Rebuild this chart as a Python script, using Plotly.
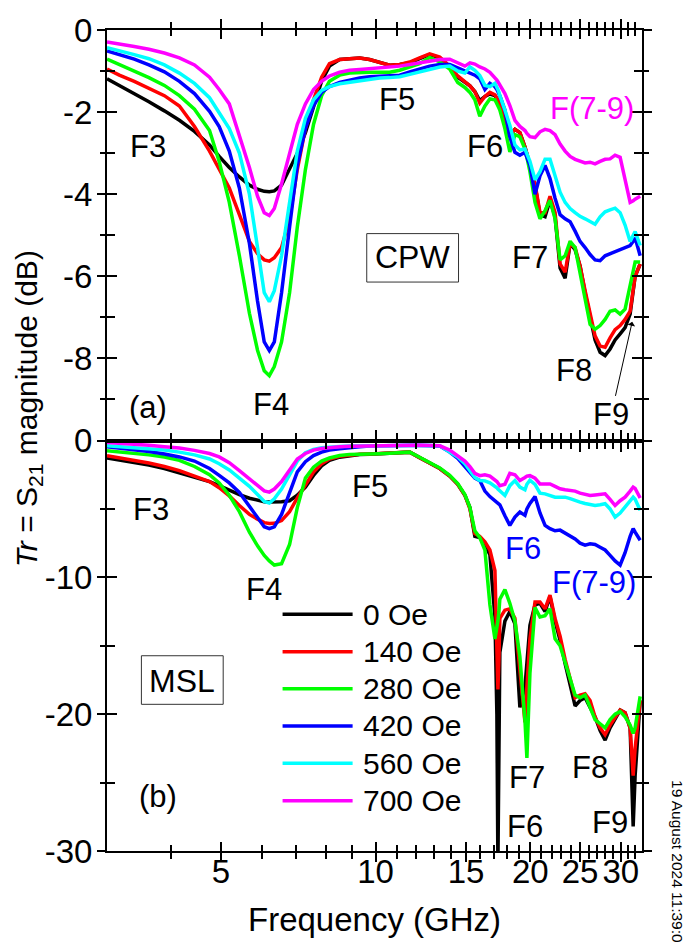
import numpy as np
import plotly.graph_objects as go

# ---------------------------------------------------------------- data
freq_ghz = [3.00, 3.17, 3.39, 3.62, 3.88, 4.15, 4.44, 4.75, 4.96, 5.19,
            5.43, 5.68, 5.89, 6.07, 6.21, 6.35, 6.56, 6.80, 7.04, 7.30,
            7.57, 7.85, 8.13, 8.51, 8.90, 9.31, 9.73, 10.18, 10.65, 11.14,
            11.65, 12.18, 12.74, 13.33, 13.94, 14.45, 14.92, 15.26, 15.60, 15.95,
            16.32, 16.69, 17.07, 17.22, 17.30, 17.38, 17.45, 17.85, 18.25, 18.67,
            19.09, 19.53, 19.70, 19.97, 20.43, 20.89, 21.37, 21.85, 22.35, 22.86,
            23.38, 23.91, 24.45, 25.00, 25.57, 26.15, 26.74, 27.35, 27.97, 28.60,
            29.25, 29.92, 30.59, 31.29, 31.72, 32.00, 32.73]

field_labels = ["0 Oe", "140 Oe", "280 Oe", "420 Oe", "560 Oe", "700 Oe"]
field_colors = ["#000000", "#FF0000", "#00FF00", "#0000FF", "#00FFFF", "#FF00FF"]

# (a) coplanar waveguide, S21 in dB
cpw_0 = [-1.19, -1.35, -1.55, -1.75, -1.97, -2.20, -2.47, -2.80, -3.08, -3.35,
         -3.58, -3.78, -3.88, -3.93, -3.94, -3.92, -3.78, -3.40, -3.00, -2.50,
         -1.85, -1.25, -0.88, -0.72, -0.70, -0.68, -0.72, -0.80, -0.86, -0.84,
         -0.80, -0.70, -0.60, -0.68, -0.90, -1.15, -1.28, -1.36, -1.50, -1.72,
         -1.62, -1.56, -1.60, -1.68, -1.72, -1.76, -1.80, -2.20, -2.57, -2.42,
         -2.50, -2.85, -3.05, -3.29, -3.78, -4.50, -4.55, -4.15, -4.55, -5.80,
         -6.05, -5.20, -5.35, -5.75, -6.40, -7.00, -7.55, -7.85, -7.93, -7.77,
         -7.55, -7.40, -7.25, -6.92, -6.30, -6.00, -5.70]
cpw_140 = [-0.95, -1.10, -1.25, -1.42, -1.60, -1.85, -2.35, -2.95, -3.40, -3.85,
           -4.50, -5.15, -5.45, -5.60, -5.63, -5.55, -5.30, -4.60, -3.40, -2.40,
           -1.70, -1.15, -0.82, -0.72, -0.70, -0.68, -0.72, -0.80, -0.86, -0.84,
           -0.78, -0.68, -0.58, -0.66, -0.88, -1.12, -1.25, -1.36, -1.50, -1.78,
           -1.62, -1.52, -1.58, -1.65, -1.70, -1.74, -1.78, -2.20, -2.57, -2.42,
           -2.50, -2.85, -3.05, -3.29, -3.75, -4.45, -4.45, -4.05, -4.45, -5.70,
           -5.90, -5.20, -5.30, -5.75, -6.35, -6.95, -7.45, -7.70, -7.73, -7.50,
           -7.30, -7.20, -7.05, -6.85, -6.25, -6.00, -5.70]
cpw_280 = [-0.71, -0.84, -1.00, -1.16, -1.35, -1.60, -1.93, -2.45, -3.20, -4.20,
           -5.50, -6.90, -7.80, -8.30, -8.42, -8.20, -7.60, -6.40, -4.80, -3.40,
           -2.30, -1.60, -1.25, -1.10, -1.05, -1.03, -1.03, -1.03, -1.03, -0.98,
           -0.91, -0.82, -0.67, -0.78, -0.95, -1.28, -1.40, -1.52, -1.70, -2.10,
           -1.85, -1.68, -1.70, -1.78, -1.84, -1.90, -1.95, -2.40, -2.97, -2.55,
           -2.60, -2.90, -3.10, -3.45, -4.20, -4.60, -4.40, -4.15, -4.60, -5.60,
           -5.50, -5.15, -5.30, -5.95, -6.60, -7.17, -7.29, -7.20, -7.05, -6.85,
           -6.82, -6.92, -6.80, -6.20, -5.85, -5.65, -5.65]
cpw_420 = [-0.51, -0.60, -0.71, -0.85, -1.02, -1.25, -1.55, -1.98, -2.35, -2.95,
           -3.85, -5.20, -6.60, -7.60, -7.81, -7.60, -6.40, -4.80, -3.30, -2.40,
           -1.85, -1.52, -1.38, -1.28, -1.22, -1.17, -1.14, -1.12, -1.11, -1.10,
           -1.02, -0.95, -0.88, -0.84, -0.84, -0.92, -1.00, -1.05, -1.10, -1.19,
           -1.45, -1.30, -1.38, -1.45, -1.50, -1.55, -1.60, -1.95, -2.60, -2.98,
           -3.05, -2.98, -3.10, -3.30, -4.00, -3.55, -3.30, -3.62, -4.10, -4.50,
           -4.60, -4.67, -4.90, -5.15, -5.30, -5.47, -5.60, -5.62, -5.50, -5.45,
           -5.40, -5.35, -5.32, -5.25, -5.15, -5.06, -5.50]
cpw_560 = [-0.43, -0.50, -0.60, -0.70, -0.85, -1.05, -1.30, -1.65, -2.00, -2.40,
           -3.00, -4.00, -5.30, -6.40, -6.62, -6.35, -5.50, -4.20, -2.95, -2.15,
           -1.70, -1.47, -1.38, -1.31, -1.27, -1.23, -1.20, -1.17, -1.16, -1.14,
           -1.08, -1.02, -0.95, -0.90, -0.88, -1.00, -1.05, -0.90, -0.98, -1.11,
           -1.35, -1.38, -1.30, -1.38, -1.45, -1.52, -1.60, -1.95, -2.32, -2.80,
           -2.92, -2.90, -3.00, -3.20, -3.65, -3.45, -3.15, -3.15, -3.55, -3.95,
           -4.20, -4.35, -4.45, -4.54, -4.60, -4.67, -4.73, -4.55, -4.43, -4.38,
           -4.34, -4.45, -4.75, -5.15, -5.00, -4.91, -5.25]
cpw_700 = [-0.29, -0.33, -0.40, -0.47, -0.56, -0.68, -0.85, -1.15, -1.45, -1.80,
           -2.55, -3.35, -4.05, -4.45, -4.52, -4.35, -3.75, -3.00, -2.30, -1.80,
           -1.45, -1.25, -1.12, -1.03, -0.98, -0.96, -0.94, -0.93, -0.92, -0.88,
           -0.84, -0.80, -0.76, -0.72, -0.71, -0.80, -0.88, -0.80, -0.83, -0.90,
           -0.95, -1.03, -1.15, -1.22, -1.26, -1.30, -1.35, -1.55, -1.84, -2.20,
           -2.35, -2.45, -2.52, -2.60, -2.62, -2.48, -2.42, -2.45, -2.55, -2.78,
           -2.95, -3.08, -3.15, -3.20, -3.24, -3.22, -3.26, -3.20, -3.15, -3.14,
           -3.05, -3.10, -3.60, -4.20, -4.16, -4.12, -4.05]

# (b) microstrip line, S21 in dB
msl_0 = [-1.28, -1.42, -1.60, -1.80, -2.05, -2.35, -2.70, -3.00, -3.30, -3.65,
         -3.95, -4.22, -4.38, -4.47, -4.50, -4.50, -4.48, -4.40, -4.00, -3.40,
         -2.55, -1.85, -1.45, -1.22, -1.10, -1.03, -1.00, -0.97, -0.93, -0.88,
         -0.85, -1.25, -1.62, -2.05, -2.60, -3.20, -4.00, -4.90, -7.00, -7.10,
         -7.60, -8.35, -12.9, -20.0, -31.0, -25.0, -15.5, -13.2, -12.5, -13.4,
         -19.5, -18.0, -16.0, -13.5, -12.0, -11.9, -12.5, -11.4, -13.2, -14.6,
         -16.3, -17.8, -19.4, -19.0, -18.8, -19.5, -20.2, -21.2, -21.9, -21.0,
         -20.3, -19.7, -19.9, -21.0, -28.2, -24.5, -19.0]
msl_140 = [-1.12, -1.27, -1.45, -1.65, -1.90, -2.20, -2.60, -3.00, -3.45, -4.05,
           -4.75, -5.40, -5.75, -6.00, -6.07, -6.05, -5.85, -5.20, -4.20, -3.20,
           -2.30, -1.70, -1.35, -1.15, -1.06, -1.00, -0.98, -0.96, -0.92, -0.88,
           -0.85, -1.25, -1.62, -2.05, -2.60, -3.20, -4.00, -5.00, -6.80, -7.00,
           -7.40, -8.00, -9.50, -14.0, -18.2, -16.0, -13.0, -12.4, -12.3, -13.0,
           -17.0, -20.6, -18.0, -14.5, -11.8, -11.8, -12.3, -11.3, -13.0, -14.3,
           -16.0, -17.3, -18.8, -18.6, -18.5, -19.0, -20.2, -21.0, -21.5, -20.8,
           -20.2, -19.7, -19.9, -21.0, -24.5, -22.5, -19.0]
msl_280 = [-0.75, -0.83, -0.93, -1.05, -1.20, -1.45, -1.90, -2.50, -3.10, -4.00,
           -5.20, -6.70, -7.70, -8.40, -8.80, -9.10, -9.00, -7.60, -4.90, -2.75,
           -1.95, -1.50, -1.28, -1.10, -1.02, -0.98, -0.97, -0.96, -0.93, -0.88,
           -0.85, -1.22, -1.60, -2.00, -2.55, -3.15, -3.95, -4.90, -6.60, -7.10,
           -8.00, -12.0, -14.5, -13.8, -13.2, -12.5, -11.6, -10.9, -11.9, -13.2,
           -15.8, -20.5, -23.2, -17.0, -12.2, -12.9, -12.8, -12.3, -14.5, -15.0,
           -16.2, -17.2, -18.6, -18.8, -18.6, -19.5, -20.4, -20.7, -21.0, -20.4,
           -20.0, -19.8, -20.2, -20.8, -21.4, -21.0, -18.7]
msl_420 = [-0.46, -0.55, -0.67, -0.80, -0.98, -1.20, -1.50, -2.05, -2.55, -3.10,
           -3.80, -4.80, -5.70, -6.30, -6.44, -6.31, -5.40, -3.90, -2.30, -1.55,
           -1.10, -0.85, -0.70, -0.60, -0.50, -0.45, -0.41, -0.38, -0.36, -0.35,
           -0.34, -0.34, -0.36, -0.40, -0.85, -1.30, -1.90, -2.30, -2.75, -2.93,
           -3.70, -4.10, -4.40, -4.55, -4.60, -4.65, -4.70, -5.50, -6.20, -5.60,
           -5.23, -5.47, -5.00, -4.60, -4.10, -5.30, -6.20, -6.44, -6.60, -6.55,
           -6.75, -6.95, -7.20, -7.50, -7.65, -7.55, -7.60, -7.80, -8.00, -8.40,
           -8.80, -9.10, -8.20, -7.00, -6.44, -6.70, -7.29]
msl_560 = [-0.39, -0.45, -0.52, -0.60, -0.70, -0.85, -1.05, -1.35, -1.70, -2.15,
           -2.75, -3.35, -3.95, -4.45, -4.57, -4.26, -3.55, -2.50, -1.50, -0.90,
           -0.65, -0.52, -0.46, -0.43, -0.41, -0.40, -0.38, -0.36, -0.35, -0.35,
           -0.34, -0.34, -0.36, -0.39, -0.80, -1.20, -1.70, -2.20, -2.70, -2.93,
           -2.95, -3.10, -3.30, -3.45, -3.55, -3.62, -3.70, -4.02, -3.30, -2.93,
           -3.40, -3.60, -3.20, -2.90, -3.20, -3.85, -3.90, -4.05, -4.14, -4.15,
           -4.14, -4.25, -4.40, -4.50, -4.60, -4.68, -4.75, -4.70, -4.62, -5.00,
           -5.60, -5.30, -4.86, -4.40, -4.14, -4.30, -5.10]
msl_700 = [-0.15, -0.20, -0.27, -0.35, -0.45, -0.55, -0.72, -0.95, -1.20, -1.62,
           -2.20, -2.80, -3.30, -3.68, -3.77, -3.55, -3.00, -2.10, -1.35, -0.95,
           -0.70, -0.58, -0.50, -0.45, -0.42, -0.40, -0.38, -0.36, -0.35, -0.35,
           -0.34, -0.34, -0.36, -0.39, -0.70, -1.10, -1.50, -1.90, -2.40, -2.57,
           -2.50, -2.60, -2.85, -3.00, -3.10, -3.20, -3.30, -3.20, -2.40, -2.50,
           -2.93, -2.70, -2.60, -2.57, -2.75, -3.17, -3.20, -3.17, -3.35, -3.53,
           -3.60, -3.63, -3.70, -3.85, -3.95, -4.02, -3.98, -3.95, -3.90, -4.30,
           -4.75, -4.40, -4.14, -3.70, -3.41, -3.50, -4.20]

cpw_series = [cpw_0, cpw_140, cpw_280, cpw_420, cpw_560, cpw_700]
msl_series = [msl_0, msl_140, msl_280, msl_420, msl_560, msl_700]

# axis ticks
x_major = [5, 10, 15, 20, 25, 30]
x_minor = [4, 6, 7, 8, 9, 11, 12, 13, 14, 16, 17, 18, 19, 21, 22, 23, 24,
           26, 27, 28, 29, 31, 32]
cpw_major = [0, -2, -4, -6, -8]
cpw_minor = [-1, -3, -5, -7, -9]
msl_major = [0, -10, -20, -30]
msl_minor = [-5, -15, -25]

# feature labels: (text, frequency GHz, dB, colour)
cpw_labels = [("F3", 3.61, -2.85, "black"), ("F4", 6.27, -9.12, "black"),
              ("F5", 10.99, -1.69, "black"), ("F6", 16.32, -2.83, "black"),
              ("F7", 19.97, -5.54, "black"), ("F8", 24.34, -8.30, "black"),
              ("F(7-9)", 26.39, -1.91, "#FF00FF"), ("(a)", 3.61, -9.19, "black")]
msl_labels = [("F3", 3.66, -5.06, "black"), ("F4", 6.05, -10.86, "black"),
              ("F5", 9.73, -3.39, "black"), ("F6", 19.36, -7.88, "#0000FF"),
              ("F(7-9)", 26.63, -10.36, "#0000FF"), ("F7", 19.70, -24.65, "black"),
              ("F6", 19.53, -28.2, "black"), ("F8", 26.15, -23.92, "black"),
              ("F9", 28.60, -27.9, "black"), ("(b)", 3.77, -26.0, "black")]

# ---------------------------------------------------------------- figure
FONT = "Liberation Sans, Arial, sans-serif"
W, H = 686, 943
ML, MR, MT, MB = 107, 44, 24, 92
LW = 3.5
F_MIN, F_MAX = 3.0, 33.0
CPW_RANGE = [-10, 0]
MSL_RANGE = [-30, 0]

fig = go.Figure()

for name, color, top, bottom in zip(field_labels, field_colors, cpw_series, msl_series):
    fig.add_trace(go.Scatter(x=freq_ghz, y=top, xaxis="x2", yaxis="y2", mode="lines",
                             line=dict(color=color, width=LW), name=name,
                             showlegend=False, hoverinfo="skip"))
    fig.add_trace(go.Scatter(x=freq_ghz, y=bottom, xaxis="x", yaxis="y", mode="lines",
                             line=dict(color=color, width=LW), name=name,
                             showlegend=False, hoverinfo="skip"))

# invisible markers so the inward-tick companion axes get drawn
for xa, ya in [("x3", "y"), ("x", "y3"), ("x4", "y2"), ("x2", "y4")]:
    fig.add_trace(go.Scatter(x=[10], y=[-1], xaxis=xa, yaxis=ya, mode="markers",
                             marker=dict(opacity=0), hoverinfo="skip", showlegend=False))

x_range = [float(np.log10(F_MIN)), float(np.log10(F_MAX))]
tick_font = dict(family=FONT, size=33, color="black")


def x_axis(labels, ticks, major_len, minor_len, **extra):
    d = dict(type="log", range=x_range, tickmode="array", tickvals=x_major,
             ticktext=[str(v) for v in x_major], ticks=ticks, ticklen=major_len,
             tickwidth=2, tickcolor="black", showline=True, linecolor="black",
             linewidth=2, mirror="ticks", showgrid=False, zeroline=False,
             showticklabels=labels, tickfont=tick_font, ticklabelstandoff=-19,
             minor=dict(tickmode="array", tickvals=x_minor, ticks=ticks,
                        ticklen=minor_len, tickwidth=2, tickcolor="black",
                        showgrid=False))
    d.update(extra)
    return d


def y_axis(rng, major, minor, domain, labels, ticks, major_len, minor_len, **extra):
    d = dict(range=rng, domain=domain, tickmode="array", tickvals=major,
             ticktext=[str(v) for v in major], ticks=ticks, ticklen=major_len,
             tickwidth=2, tickcolor="black", showline=True, linecolor="black",
             linewidth=2, mirror="ticks", showgrid=False, zeroline=False,
             showticklabels=labels, tickfont=tick_font, ticklabelstandoff=-2,
             minor=dict(tickmode="array", tickvals=minor, ticks=ticks,
                        ticklen=minor_len, tickwidth=2, tickcolor="black",
                        showgrid=False))
    d.update(extra)
    return d


fig.update_layout(
    width=W, height=H,
    margin=dict(l=ML, r=MR, t=MT, b=MB, pad=0),
    paper_bgcolor="white", plot_bgcolor="white",
    font=dict(family=FONT, color="black"),
    showlegend=False,
    xaxis=x_axis(True, "outside", 9, 6, anchor="y"),
    xaxis2=x_axis(False, "outside", 9, 6, anchor="y2"),
    xaxis3=x_axis(False, "inside", 9, 6, anchor="y", overlaying="x"),
    xaxis4=x_axis(False, "inside", 9, 6, anchor="y2", overlaying="x2"),
    yaxis=y_axis(MSL_RANGE, msl_major, msl_minor, [0, 0.5], True, "outside", 8, 5,
                 anchor="x"),
    yaxis2=y_axis(CPW_RANGE, cpw_major, cpw_minor, [0.5, 1], True, "outside", 8, 5,
                  anchor="x2"),
    yaxis3=y_axis(MSL_RANGE, msl_major, msl_minor, [0, 0.5], False, "inside", 10, 8,
                  anchor="x", overlaying="y"),
    yaxis4=y_axis(CPW_RANGE, cpw_major, cpw_minor, [0.5, 1], False, "inside", 10, 8,
                  anchor="x2", overlaying="y2"),
)


# data -> paper coordinates (used for labels and shapes)
def paper_x(f):
    return float((np.log10(f) - np.log10(F_MIN)) / (np.log10(F_MAX) - np.log10(F_MIN)))


def paper_y_cpw(db):
    return float(0.5 + 0.5 * (db - CPW_RANGE[0]) / (CPW_RANGE[1] - CPW_RANGE[0]))


def paper_y_msl(db):
    return float(0.5 * (db - MSL_RANGE[0]) / (MSL_RANGE[1] - MSL_RANGE[0]))


def px_x(p):
    return (p - ML) / (W - ML - MR)


def px_y(p):
    return (H - MB - p) / (H - MT - MB)


PLOT_W = W - ML - MR
PLOT_H = H - MT - MB

annotations = []
shapes = []
lab_font = dict(family=FONT, size=31, color="black")
centered = dict(xref="paper", yref="paper", xanchor="center", yanchor="middle",
                showarrow=False)

for text, f, db, col in cpw_labels:
    annotations.append(dict(centered, text=text, x=paper_x(f), y=paper_y_cpw(db),
                            font=dict(lab_font, color=col)))
for text, f, db, col in msl_labels:
    annotations.append(dict(centered, text=text, x=paper_x(f), y=paper_y_msl(db),
                            font=dict(lab_font, color=col)))

# F9 in panel (a) with a pointer to the shoulder near 31.6 GHz
head_f, head_db = 31.58, -7.11
text_f, text_db = 28.74, -9.36
annotations.append(dict(text="F9", x=paper_x(head_f), y=paper_y_cpw(head_db),
                        xref="paper", yref="paper", xanchor="center", yanchor="middle",
                        ax=(paper_x(text_f) - paper_x(head_f)) * PLOT_W,
                        ay=-(paper_y_cpw(text_db) - paper_y_cpw(head_db)) * PLOT_H,
                        showarrow=True, arrowhead=1, arrowsize=1.3,
                        arrowwidth=1, arrowcolor="black", standoff=0, font=lab_font))

# boxed panel tags
for text, f, db, f0, f1, d0, d1, to_y in [
        ("CPW", 11.81, -5.54, 9.61, 14.5, -4.96, -6.14, paper_y_cpw),
        ("MSL", 4.20, -17.54, 3.50, 5.05, -15.73, -19.28, paper_y_msl)]:
    annotations.append(dict(centered, text=text, x=paper_x(f), y=to_y(db),
                            font=dict(lab_font, size=32)))
    shapes.append(dict(type="rect", xref="paper", yref="paper",
                       x0=paper_x(f0), x1=paper_x(f1), y0=to_y(d0), y1=to_y(d1),
                       line=dict(color="#333333", width=1)))

# legend drawn inside panel (b)
legend_rows = [-12.70, -15.44, -18.14, -20.86, -23.59, -26.33]
for name, color, row in zip(field_labels, field_colors, legend_rows):
    shapes.append(dict(type="line", xref="paper", yref="paper",
                       x0=paper_x(6.59), x1=paper_x(9.02),
                       y0=paper_y_msl(row), y1=paper_y_msl(row),
                       line=dict(color=color, width=LW)))
    annotations.append(dict(centered, text=name, x=paper_x(9.35), y=paper_y_msl(row),
                            xanchor="left",
                            font=dict(family=FONT, size=30, color="black")))

# axis titles
annotations.append(dict(centered, text="<i>Tr</i> = S<sub>21</sub> magnitude (dB)",
                        x=px_x(28), y=px_y(406), textangle=-90,
                        font=dict(lab_font, size=30)))
annotations.append(dict(centered, text="Frequency (GHz)", x=0.5, y=px_y(920),
                        font=dict(lab_font, size=33)))
# time stamp along the right edge
annotations.append(dict(centered, text="19 August 2024 11:39:0", x=px_x(678),
                        y=px_y(777), textangle=90, yanchor="top",
                        font=dict(family=FONT, size=15.5, color="black")))

fig.update_layout(annotations=annotations, shapes=shapes)
fig.write_html("out.html")
